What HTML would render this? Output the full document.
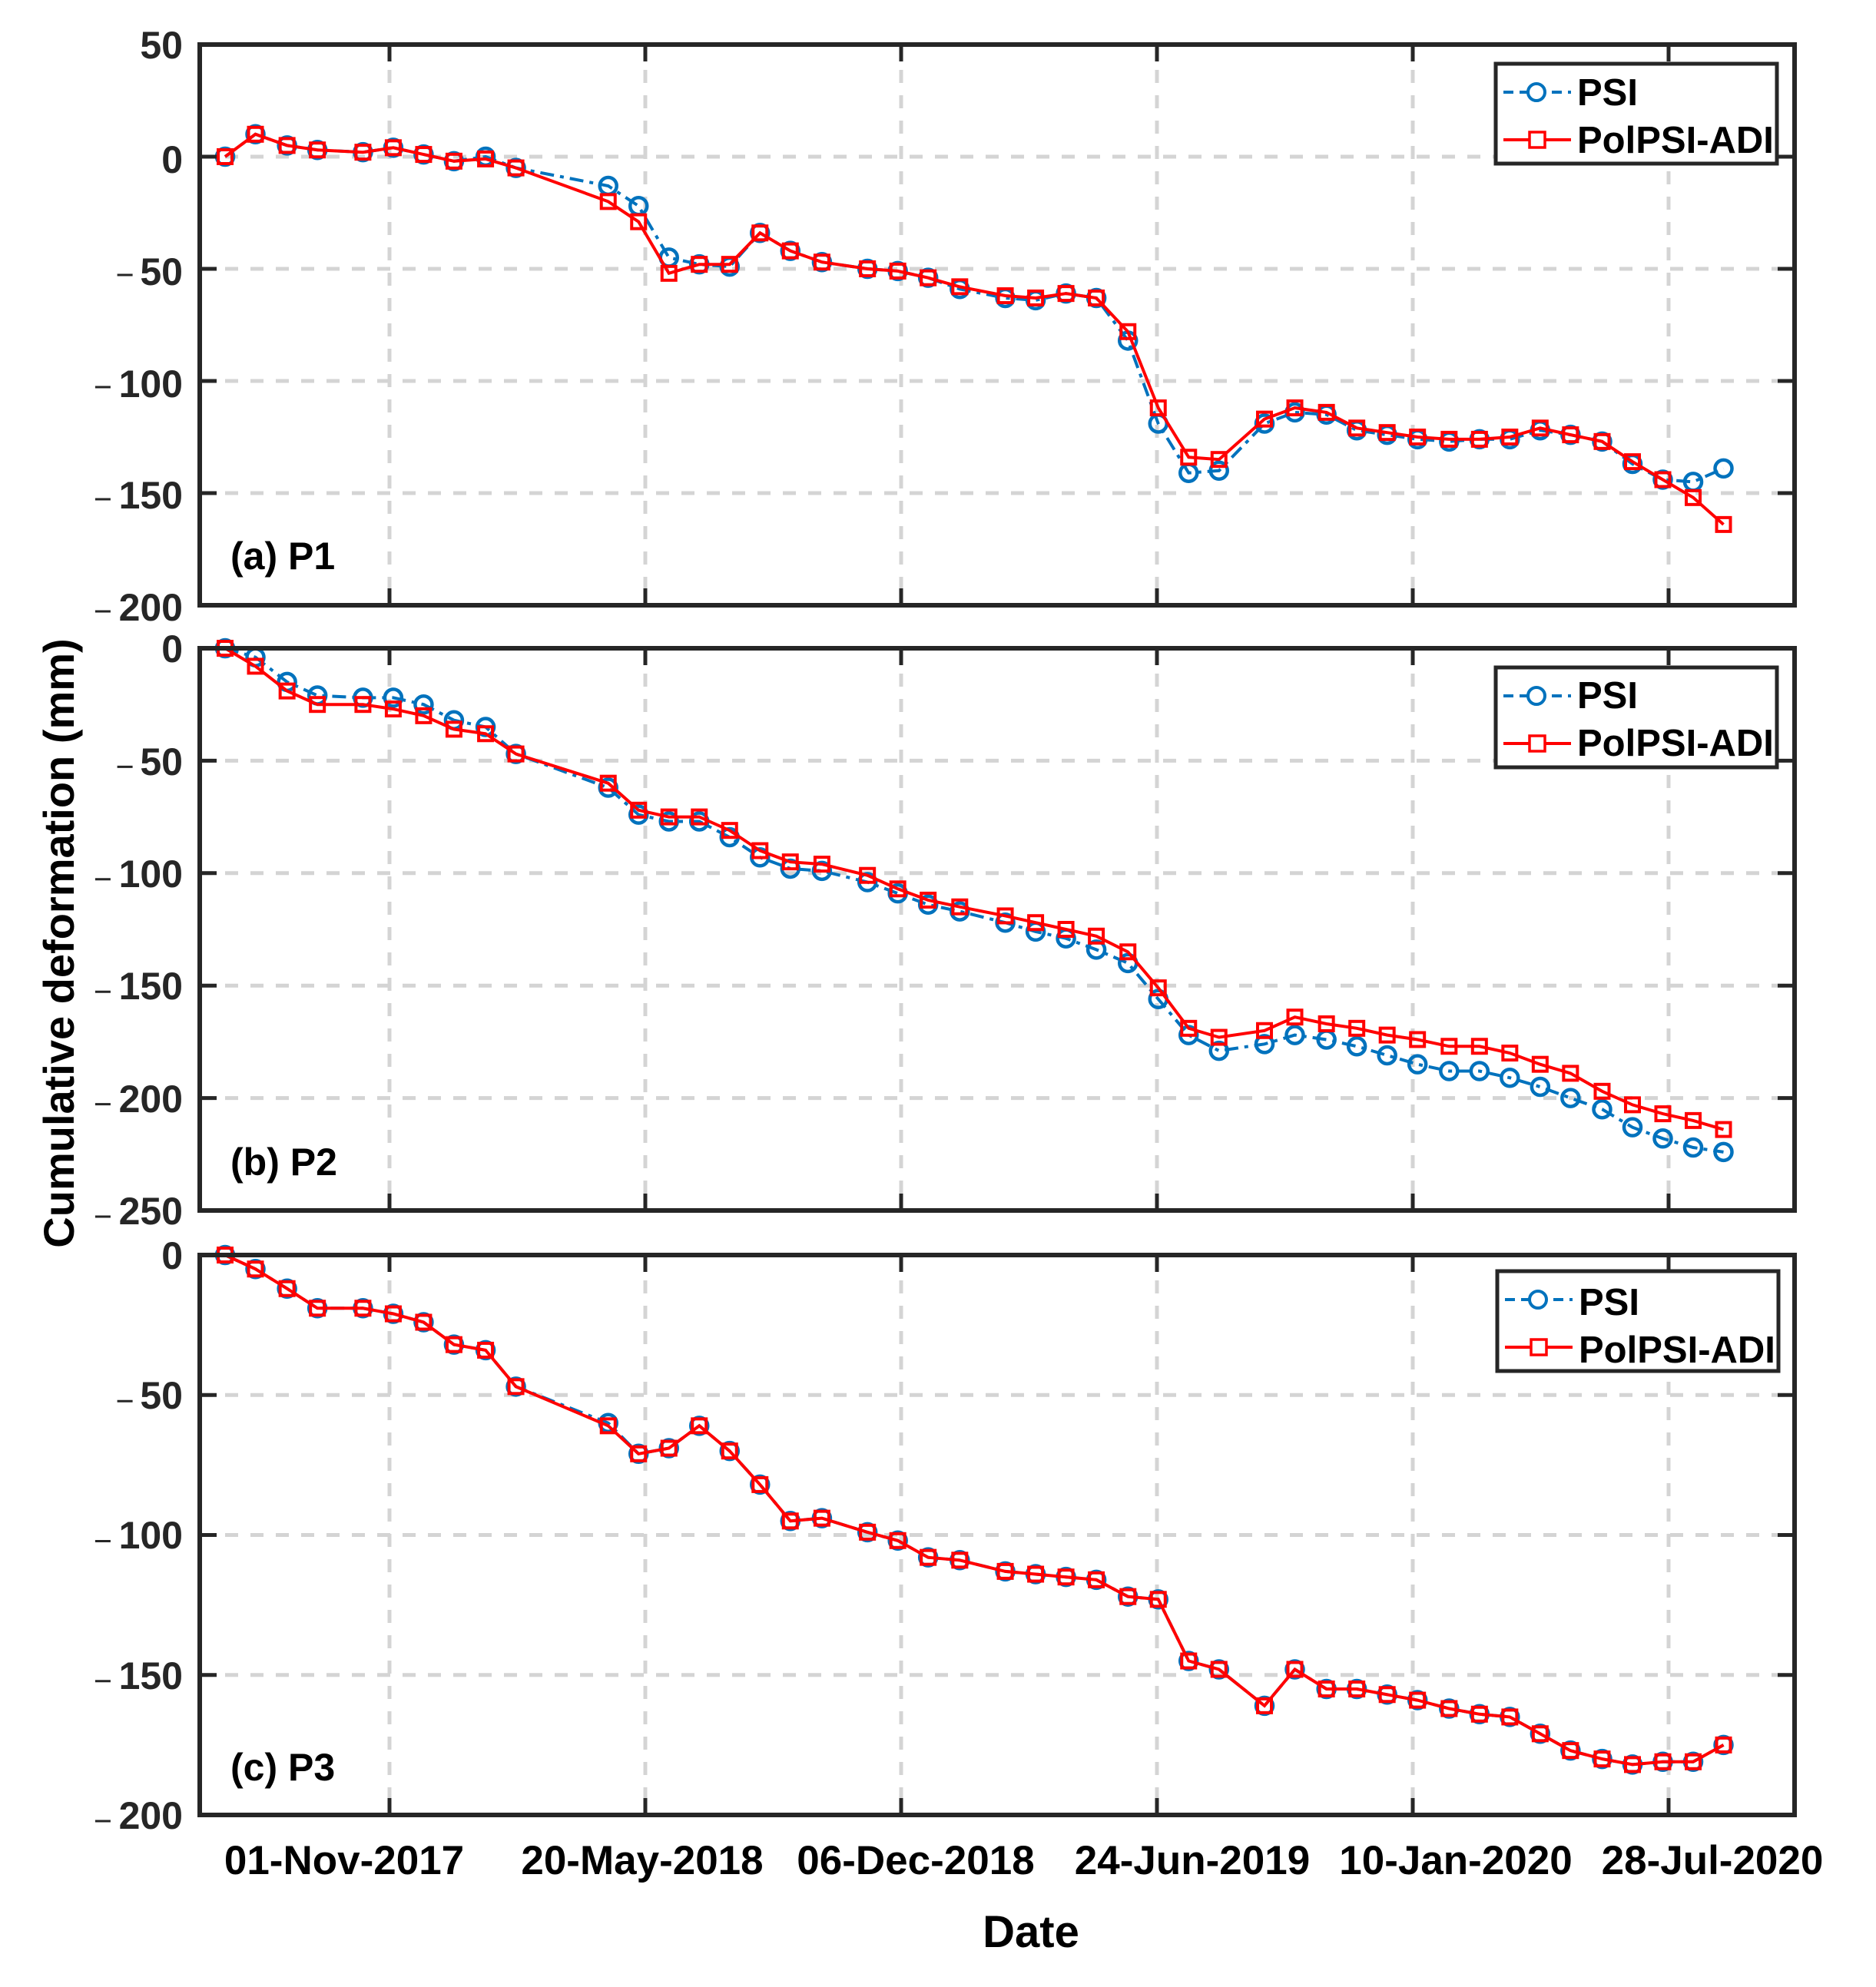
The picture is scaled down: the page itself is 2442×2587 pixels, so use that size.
<!DOCTYPE html>
<html><head><meta charset="utf-8"><style>
html,body{margin:0;padding:0;background:#fff;}
svg{display:block;}
text{font-family:"Liberation Sans",Arial,sans-serif;font-weight:bold;}
</style></head><body>
<svg id="s" width="2442" height="2587" viewBox="0 0 2442 2587" xmlns="http://www.w3.org/2000/svg">
<g id="grid"></g>
<g id="data"></g>
<g id="axes"></g>
<g fill="#262626" font-size="50" text-anchor="end">
<text x="238" y="76">50</text>
<text x="238" y="225">0</text>
<text x="238" y="371">50</text>
<text x="238" y="517">100</text>
<text x="238" y="662">150</text>
<text x="238" y="808">200</text>
<text x="238" y="862">0</text>
<text x="238" y="1009">50</text>
<text x="238" y="1155">100</text>
<text x="238" y="1301">150</text>
<text x="238" y="1448">200</text>
<text x="238" y="1594">250</text>
<text x="238" y="1652">0</text>
<text x="238" y="1834">50</text>
<text x="238" y="2016">100</text>
<text x="238" y="2199">150</text>
<text x="238" y="2381">200</text>
</g>
<g id="minus" stroke="#262626" stroke-width="3"></g>
<g fill="#000" font-size="53" text-anchor="middle">
<text x="448" y="2440">01-Nov-2017</text>
<text x="836" y="2440">20-May-2018</text>
<text x="1192" y="2440">06-Dec-2018</text>
<text x="1552" y="2440">24-Jun-2019</text>
<text x="1895" y="2440">10-Jan-2020</text>
<text x="2229" y="2440">28-Jul-2020</text>
<text x="1342" y="2535" font-size="58">Date</text>
</g>
<text x="96" y="1228" font-size="56" text-anchor="middle" fill="#000" transform="rotate(-90 96 1228)">Cumulative deformation (mm)</text>
<g fill="#000" font-size="50">
<text x="300" y="741">(a) P1</text>
<text x="300" y="1530">(b) P2</text>
<text x="300" y="2318">(c) P3</text>
</g>
<g id="leg"></g>
<g fill="#000" font-size="49">
<text x="2053" y="137">PSI</text>
<text x="2053" y="199">PolPSI-ADI</text>
<text x="2053" y="922">PSI</text>
<text x="2053" y="984">PolPSI-ADI</text>
<text x="2055" y="1712">PSI</text>
<text x="2055" y="1774">PolPSI-ADI</text>
</g>
</svg>
<script>
var NS="http://www.w3.org/2000/svg";
function el(p,t,a){var e=document.createElementNS(NS,t);for(var k in a)e.setAttribute(k,a[k]);document.getElementById(p).appendChild(e);return e;}
var L=260,R=2336;
var panels=[
 {top:58,bot:788,ymax:50,ymin:-200},
 {top:844,bot:1576,ymax:0,ymin:-250},
 {top:1634,bot:2363,ymax:0,ymin:-200}];
var gx=[507,840,1173,1506,1839,2172];
var xd=[177,201,226,250,286,310,334,358,383,407,480,504,528,552,576,600,624,649,685,709,733,758,794,818,842,866,891,915,939,963,999,1023,1048,1072,1096,1120,1145,1169,1193,1217,1241,1266,1290,1314,1338,1362];
var xs=xd.map(function(d){return 293+(d-177)*1.646;});
var p1a=[0,10,5,3,2,4,1,-2,0,-5,-13,-22,-45,-48,-49,-34,-42,-47,-50,-51,-54,-59,-63,-64,-61,-63,-82,-119,-141,-140,-119,-114,-115,-122,-124,-126,-127,-126,-126,-122,-124,-127,-137,-144,-145,-139];
var p1b=[0,10,5,3,2,4,1,-2,-1,-5,-20,-29,-52,-48,-48,-34,-42,-47,-50,-51,-54,-58,-62,-63,-61,-63,-78,-112,-134,-135,-117,-112,-114,-121,-123,-125,-126,-126,-125,-121,-124,-127,-136,-144,-152,-164];
var p2a=[0,-4,-15,-21,-22,-22,-25,-32,-35,-47,-62,-74,-77,-77,-84,-93,-98,-99,-104,-109,-114,-117,-122,-126,-129,-134,-140,-156,-172,-179,-176,-172,-174,-177,-181,-185,-188,-188,-191,-195,-200,-205,-213,-218,-222,-224];
var p2b=[0,-8,-19,-25,-25,-27,-30,-36,-38,-47,-60,-72,-75,-75,-81,-90,-95,-96,-101,-107,-112,-115,-119,-122,-125,-128,-135,-151,-169,-173,-170,-164,-167,-169,-172,-174,-177,-177,-180,-185,-189,-197,-203,-207,-210,-214];
var p3a=[0,-5,-12,-19,-19,-21,-24,-32,-34,-47,-60,-71,-69,-61,-70,-82,-95,-94,-99,-102,-108,-109,-113,-114,-115,-116,-122,-123,-145,-148,-161,-148,-155,-155,-157,-159,-162,-164,-165,-171,-177,-180,-182,-181,-181,-175];
var p3b=p3a.slice();p3b[10]=-61;
var data=[[p1a,p1b],[p2a,p2b],[p3a,p3b]];
panels.forEach(function(P,i){
 var sc=(P.bot-P.top)/(P.ymax-P.ymin);
 function Y(v){return P.top+(P.ymax-v)*sc;}
 for(var v=P.ymax-50;v>P.ymin;v-=50){
  var y=Y(v);
  el("grid","line",{x1:L,x2:R,y1:y,y2:y,stroke:"#d4d4d4","stroke-width":5,"stroke-dasharray":"17 16"});
 }
 gx.forEach(function(x){el("grid","line",{x1:x,x2:x,y1:P.top,y2:P.bot,stroke:"#d4d4d4","stroke-width":5,"stroke-dasharray":"17 16"});
  el("axes","line",{x1:x,x2:x,y1:P.bot,y2:P.bot-22,stroke:"#262626","stroke-width":5});
  el("axes","line",{x1:x,x2:x,y1:P.top,y2:P.top+22,stroke:"#262626","stroke-width":5});});
 for(var v=P.ymax;v>=P.ymin;v-=50){
  var y=Y(v);
  el("axes","line",{x1:L,x2:L+22,y1:y,y2:y,stroke:"#262626","stroke-width":5});
  el("axes","line",{x1:R,x2:R-22,y1:y,y2:y,stroke:"#262626","stroke-width":5});
  if(v<0){var nd=String(-v).length;var xe=238-nd*28.7-8;
   el("minus","line",{x1:xe-20,x2:xe,y1:y+8,y2:y+8});}
 }
 el("axes","rect",{x:L,y:P.top,width:R-L,height:P.bot-P.top,fill:"none",stroke:"#262626","stroke-width":6});
 var a=data[i][0],b=data[i][1];
 var pa=xs.map(function(x,k){return x.toFixed(1)+","+Y(a[k]).toFixed(1);}).join(" ");
 var pb=xs.map(function(x,k){return x.toFixed(1)+","+Y(b[k]).toFixed(1);}).join(" ");
 el("data","polyline",{points:pa,fill:"none",stroke:"#0072BD","stroke-width":4,"stroke-dasharray":"18 8 5 8"});
 xs.forEach(function(x,k){el("data","circle",{cx:x,cy:Y(a[k]),r:11,fill:"none",stroke:"#0072BD","stroke-width":4.5});});
 el("data","polyline",{points:pb,fill:"none",stroke:"#ff0000","stroke-width":4});
 xs.forEach(function(x,k){el("data","rect",{x:x-9,y:Y(b[k])-9,width:18,height:18,fill:"none",stroke:"#ff0000","stroke-width":4});});
 var lt=P.top+25+(i==2?-4:0), lx=1947+(i==2?2:0);
 el("leg","rect",{x:lx,y:lt,width:366,height:130,fill:"#fff",stroke:"#262626","stroke-width":5});
 var r1=lt+37,r2=lt+99;
 el("leg","line",{x1:lx+10,x2:lx+98,y1:r1,y2:r1,stroke:"#0072BD","stroke-width":4,"stroke-dasharray":"13 8"});
 el("leg","circle",{cx:lx+53,cy:r1,r:11,fill:"#fff",stroke:"#0072BD","stroke-width":4});
 el("leg","line",{x1:lx+10,x2:lx+98,y1:r2,y2:r2,stroke:"#ff0000","stroke-width":4});
 el("leg","rect",{x:lx+44,y:r2-10,width:20,height:20,fill:"#fff",stroke:"#ff0000","stroke-width":3.5});
});
</script>
</body></html>
